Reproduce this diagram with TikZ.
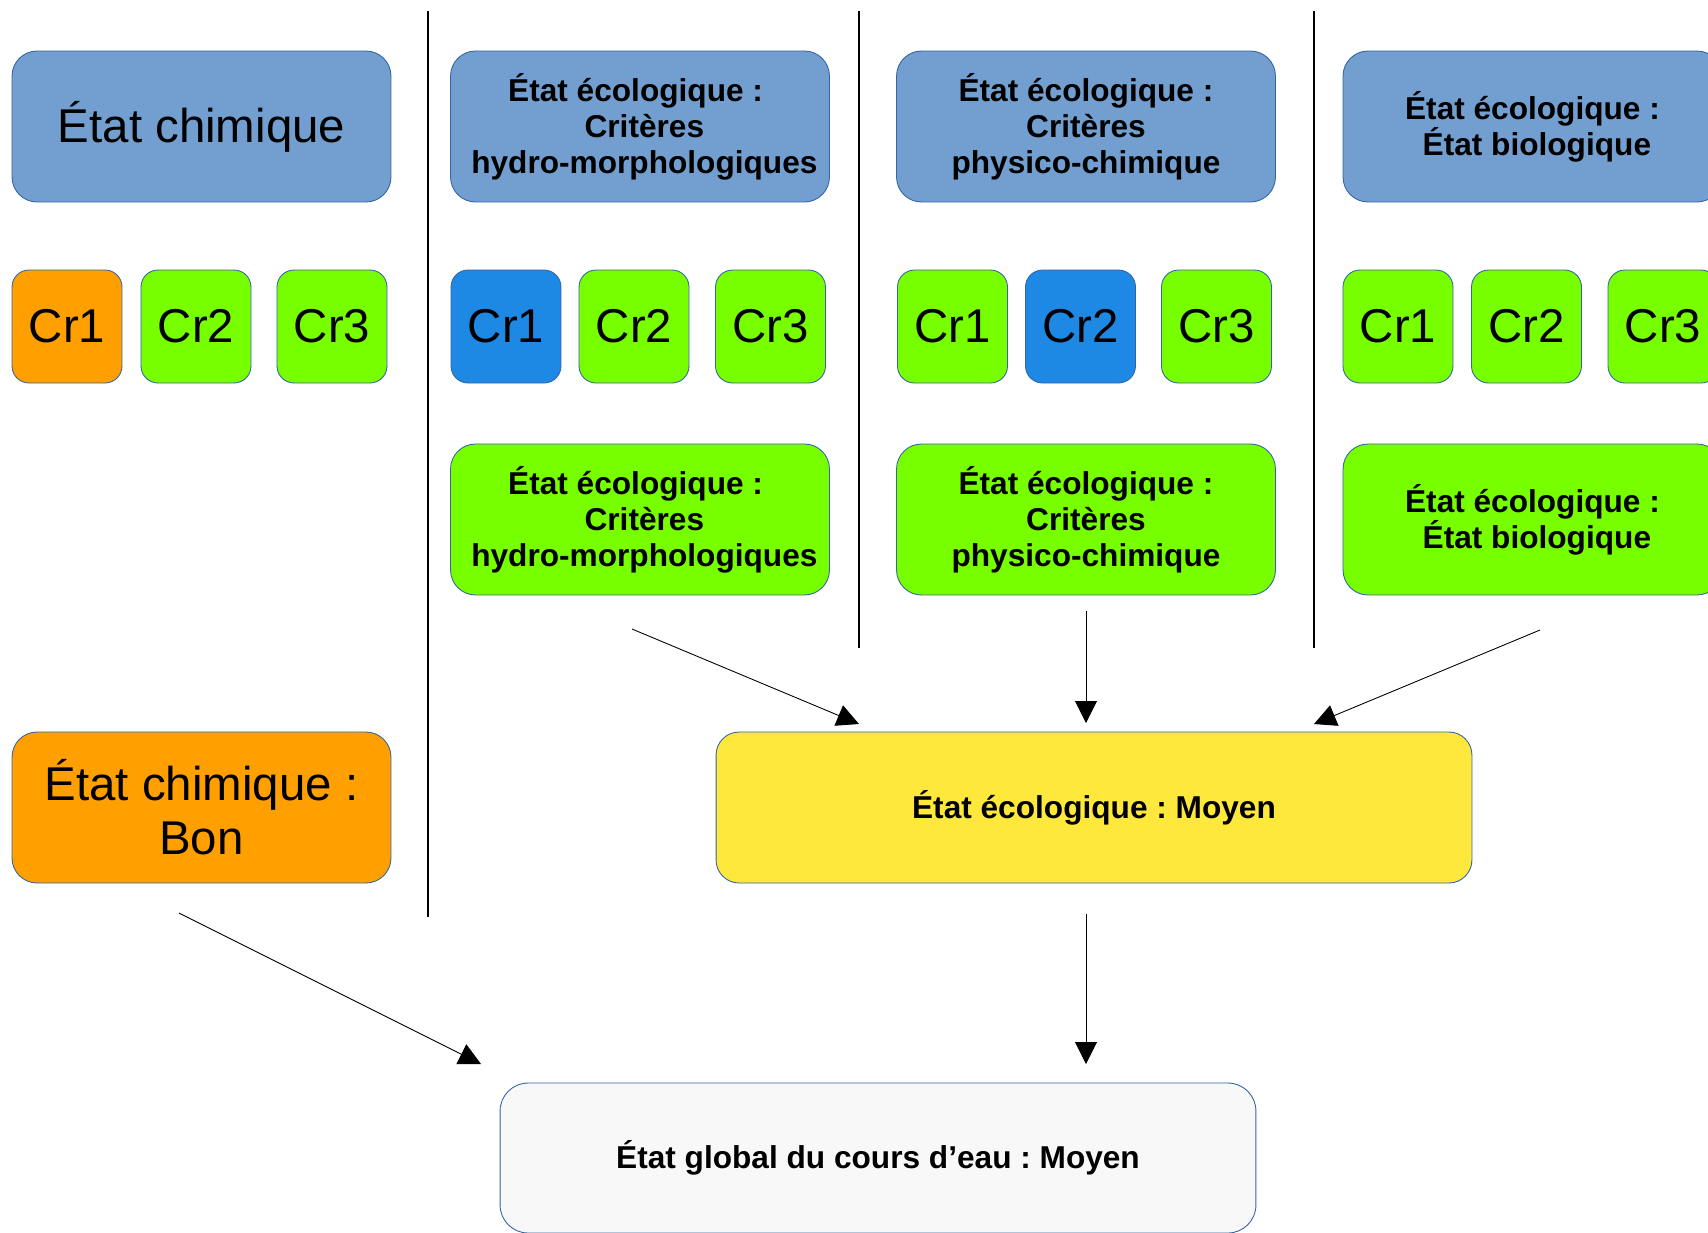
\documentclass[tikz,border=0pt]{standalone}
\usepackage{fontspec}
\setmainfont{Liberation Sans}
\usetikzlibrary{arrows.meta}
\definecolor{hdr}{HTML}{729FCF}
\definecolor{bord}{HTML}{3465A4}
\definecolor{grn}{HTML}{77FF00}
\definecolor{org}{HTML}{FFA000}
\definecolor{blu}{HTML}{1E88E5}
\definecolor{yel}{HTML}{FFE83C}
\definecolor{pale}{HTML}{F8F8F8}
\frenchspacing
\newcommand{\lsh}{\hspace*{0.175cm}}
\begin{document}
\begin{tikzpicture}[x=0.02cm,y=-0.02cm,
  bx/.style={draw=bord, line width=0.5pt, align=center, inner sep=0pt},
  big/.style={bx, rounded corners=0.5cm, minimum width=7.58cm, minimum height=3.02cm},
  crit/.style={bx, rounded corners=0.34cm, minimum width=2.2cm, minimum height=2.26cm, font=\fontsize{27}{30.6}\selectfont},
  boldtxt/.style={font=\fontsize{18}{20.4}\selectfont\bfseries},
  regtxt/.style={font=\fontsize{27}{30.6}\selectfont},
  sepline/.style={line width=0.7pt, black},
  arr/.style={line width=0.5pt, -{Triangle[length=0.44cm,width=0.44cm]}}
]
\useasboundingbox (0,0) rectangle (1708,1232);
\fill[white] (0,0) rectangle (1708,1232);
\clip (0,0) rectangle (1708,1232);

% separator lines
\coordinate (s1t) at (428,11);  \coordinate (s1b) at (428,917);
\coordinate (s2t) at (859,11);  \coordinate (s2b) at (859,648);
\coordinate (s3t) at (1314,11); \coordinate (s3b) at (1314,648);
\draw[sepline] (s1t) -- (s1b);
\draw[sepline] (s2t) -- (s2b);
\draw[sepline] (s3t) -- (s3b);

% headers
\node[big, fill=hdr, regtxt] (h1) at (201.5,126.5) {État chimique};
\node[big, fill=hdr, boldtxt] (h2) at (640,126.5) {État écologique :\lsh\\\lsh Critères\\\lsh hydro-morphologiques};
\node[big, fill=hdr, boldtxt] (h3) at (1086,126.5) {État écologique :\\Critères\\physico-chimique};
\node[big, fill=hdr, boldtxt] (h4) at (1532.5,126.5) {État écologique :\\\lsh État biologique};

% criteria
\node[crit, fill=org] (c11) at (67,326.5) {Cr1};
\node[crit, fill=grn] (c12) at (196,326.5) {Cr2};
\node[crit, fill=grn] (c13) at (332,326.5) {Cr3};
\node[crit, fill=blu] (c21) at (506,326.5) {Cr1};
\node[crit, fill=grn] (c22) at (634,326.5) {Cr2};
\node[crit, fill=grn] (c23) at (770.5,326.5) {Cr3};
\node[crit, fill=grn] (c31) at (952.5,326.5) {Cr1};
\node[crit, fill=blu] (c32) at (1080.5,326.5) {Cr2};
\node[crit, fill=grn] (c33) at (1216.5,326.5) {Cr3};
\node[crit, fill=grn] (c41) at (1398,326.5) {Cr1};
\node[crit, fill=grn] (c42) at (1526.5,326.5) {Cr2};
\node[crit, fill=grn] (c43) at (1663,326.5) {Cr3};

% results per column
\node[big, fill=grn, boldtxt] (e2) at (640,519.5) {État écologique :\lsh\\\lsh Critères\\\lsh hydro-morphologiques};
\node[big, fill=grn, boldtxt] (e3) at (1086,519.5) {État écologique :\\Critères\\physico-chimique};
\node[big, fill=grn, boldtxt] (e4) at (1532.5,519.5) {État écologique :\\\lsh État biologique};
\node[big, fill=org, regtxt] (chb) at (201.5,807.5) {État chimique :\\Bon};

\node[bx, fill=yel, boldtxt, rounded corners=0.46cm, minimum width=15.12cm, minimum height=3.02cm] (eco) at (1094,807.5) {État écologique : Moyen};
\node[bx, fill=pale, boldtxt, rounded corners=0.56cm, minimum width=15.12cm, minimum height=3.0cm] (glob) at (878,1158) {État global du cours d’eau : Moyen};

% arrows
\coordinate (a1s) at (632,629);  \coordinate (a1e) at (859,724);
\coordinate (a2s) at (1086,611); \coordinate (a2e) at (1086,723);
\coordinate (a3s) at (1540,630); \coordinate (a3e) at (1314,724);
\coordinate (a4s) at (1086,914); \coordinate (a4e) at (1086,1064);
\coordinate (a5s) at (179,913);  \coordinate (a5e) at (481,1064);
\draw[arr] (a1s) -- (a1e);
\draw[arr] (a2s) -- (a2e);
\draw[arr] (a3s) -- (a3e);
\draw[arr] (a4s) -- (a4e);
\draw[arr] (a5s) -- (a5e);
\end{tikzpicture}
\end{document}
